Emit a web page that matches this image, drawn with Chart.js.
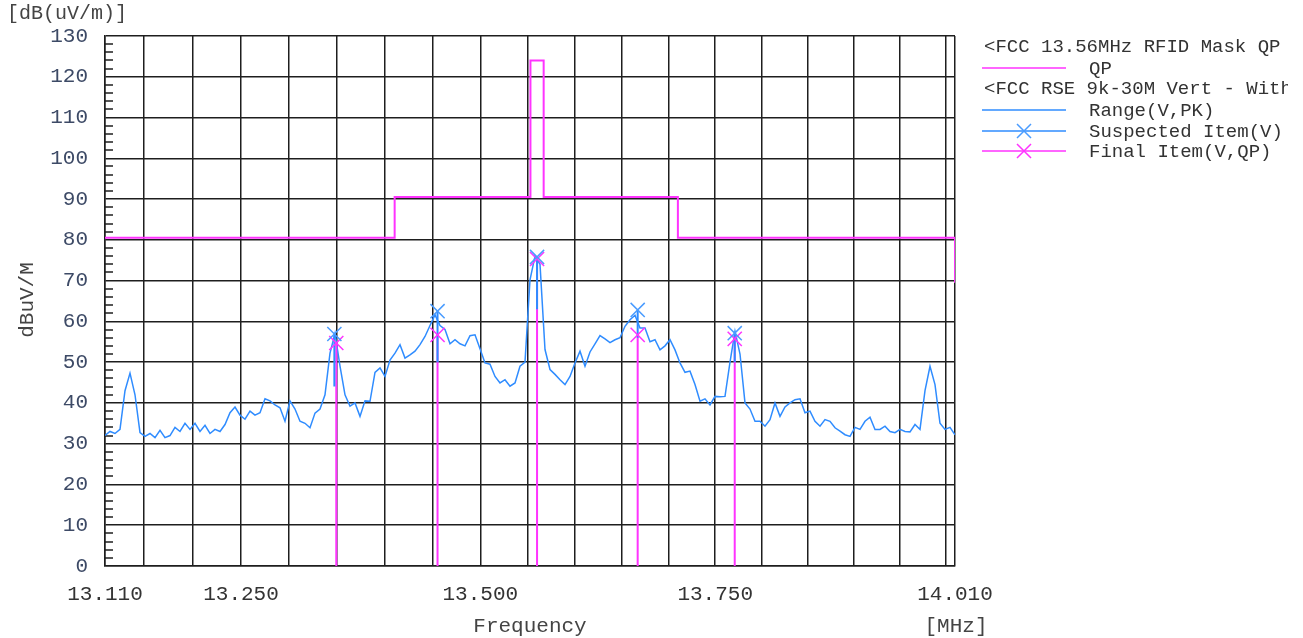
<!DOCTYPE html>
<html><head><meta charset="utf-8">
<script src="https://cdn.jsdelivr.net/npm/chart.js@4.4.1/dist/chart.umd.min.js"></script>
<style>html,body{margin:0;padding:0;background:#fff;overflow:hidden}</style>
</head><body>
<canvas id="c" width="1303" height="638"></canvas>
<script>
// ---------- data ----------
const xGridFreqs = [13.11,13.15,13.20,13.25,13.30,13.35,13.40,13.45,13.50,13.55,13.60,13.65,13.70,13.75,13.80,13.85,13.90,13.95,14.00,14.01];
const xLabelFreqs = [13.11,13.25,13.50,13.75,14.01];
const yTickStep = 10;

const limitFreq  = [13.11,13.41,13.41,13.553,13.553,13.567,13.567,13.71,13.71,14.01,14.01];
const limitLevel = [80.5, 80.5, 90.5, 90.5,  124,   124,   90.5,  90.5, 80.5, 80.5, 69.5];

const traceStart = 13.11, traceStop = 14.01;
const traceLevel = [
 32.0,33.0,32.5,33.5,43.0,47.3,42.0,32.7,31.8,32.5,
 31.5,33.3,31.5,32.0,34.0,33.0,35.0,33.5,35.0,33.0,
 34.5,32.5,33.5,33.0,34.7,37.6,39.0,37.0,36.0,38.0,
 37.0,37.6,41.0,40.5,39.5,38.8,35.5,40.5,38.5,35.5,
 35.0,33.9,37.5,38.5,42.0,52.2,57.1,49.0,42.0,39.2,
 40.0,36.7,40.5,40.4,47.5,48.6,46.5,50.5,52.2,54.3,
 51.0,51.8,52.7,54.3,56.3,59.0,61.6,59.0,58.0,54.5,
 55.5,54.5,54.0,56.5,56.7,53.3,49.8,49.5,46.5,44.9,
 45.7,44.1,44.9,49.0,50.0,70.2,76.0,74.0,53.1,48.2,
 47.0,45.7,44.5,46.5,49.8,52.7,49.0,52.5,54.5,56.5,
 55.7,54.8,55.5,56.0,58.8,60.4,61.5,58.4,58.4,55.0,
 55.5,53.0,54.0,55.5,53.0,49.8,47.5,47.8,44.5,40.4,
 41.0,39.5,41.6,41.5,41.6,50.0,57.6,52.0,40.0,38.5,
 35.5,35.5,34.3,35.9,40.0,36.7,39.0,40.0,40.8,41.0,
 37.6,38.0,35.5,34.3,35.9,35.5,33.9,33.1,32.2,31.8,
 34.0,33.5,35.5,36.5,33.5,33.5,34.3,33.0,32.7,33.5,
 33.0,32.9,34.7,33.5,43.0,49.0,44.5,35.0,33.5,34.0,
 32.2
];

const suspFreq  = [13.347,13.455,13.560,13.667,13.771];
const suspLevel = [56.9, 62.5, 75.8, 62.8, 57.1];
const suspStemLow = [44.0, 50.0, 63.0, 56.0, 50.0];
const finalFreq  = [13.349,13.455,13.560,13.667,13.771];
const finalLevel = [54.7, 56.7, 75.3, 56.7, 55.7];

const legendTitles = ['<FCC 13.56MHz RFID Mask QP', '<FCC RSE 9k-30M Vert - With'];
const legendItems  = ['QP','Range(V,PK)','Suspected Item(V)','Final Item(V,QP)'];

// ---------- build ----------
const MAG = '#ff33ff', BLUE = '#2f8cff', BLUEX = '#4a9cff', GRID = '#1e1e1e';
const FONT = 'Liberation Mono';

const nTrace = traceLevel.length;
const traceData = traceLevel.map((v,i)=>({x: traceStart*Math.pow(traceStop/traceStart, i/(nTrace-1)), y: v}));
const limitData = limitFreq.map((f,i)=>({x:f, y:limitLevel[i]}));
function stems(fs, lo, hi){ const d=[]; fs.forEach((f,i)=>{d.push({x:f,y:lo[i]});d.push({x:f,y:hi[i]});d.push({x:f,y:null});}); return d; }
const suspPts = suspFreq.map((f,i)=>({x:f,y:suspLevel[i]}));
const finalPts = finalFreq.map((f,i)=>({x:f,y:finalLevel[i]}));
const zeros = finalFreq.map(()=>0);

const deco = {
  id:'deco',
  beforeDatasetsDraw(chart){
    const ctx=chart.ctx, y=chart.scales.y, a=chart.chartArea;
    ctx.save();
    ctx.strokeStyle=GRID; ctx.lineWidth=1.5;
    for(let v=2; v<130; v+=2){
      if(v%10===0) continue;
      const py=Math.round(y.getPixelForValue(v));
      ctx.beginPath(); ctx.moveTo(a.left,py); ctx.lineTo(a.left+8,py); ctx.stroke();
    }
    ctx.restore();
  },
  afterDraw(chart){
    const ctx=chart.ctx;
    ctx.save();
    ctx.fillStyle='#444';
    ctx.font='20px "'+FONT+'"';
    ctx.textBaseline='middle';
    ctx.textAlign='left';
    ctx.fillText('[dB(uV/m)]', 7, 14);
    ctx.font='21px "'+FONT+'"';
    ctx.textAlign='center';
    ctx.fillText('Frequency', 530, 626);
    ctx.fillText('[MHz]', 956, 626);
    ctx.save();
    ctx.translate(27, 300); ctx.rotate(-Math.PI/2);
    ctx.fillText('dBuV/M', 0, 0);
    ctx.restore();
    // legend
    ctx.beginPath(); ctx.rect(960,0,328,638); ctx.clip();
    ctx.textAlign='left';
    ctx.fillStyle='#333';
    ctx.font='19px "'+FONT+'"';
    ctx.fillText(legendTitles[0], 984, 47);
    ctx.fillText(legendTitles[1], 984, 89);
    const rows=[[68,MAG,false],[110,BLUE,false],[131,BLUE,BLUEX],[151,MAG,MAG]];
    rows.forEach((r,i)=>{
      ctx.strokeStyle=r[1]; ctx.lineWidth=1.5;
      ctx.beginPath(); ctx.moveTo(982,r[0]); ctx.lineTo(1066,r[0]); ctx.stroke();
      if(r[2]){
        ctx.strokeStyle=r[2]; ctx.lineWidth=1.5;
        const cx=1024, cy=r[0], s=7;
        ctx.beginPath(); ctx.moveTo(cx-s,cy-s); ctx.lineTo(cx+s,cy+s); ctx.moveTo(cx+s,cy-s); ctx.lineTo(cx-s,cy+s); ctx.stroke();
      }
      ctx.fillStyle='#333';
      ctx.fillText(legendItems[i], 1089, r[0]+1);
    });
    ctx.restore();
  }
};

new Chart(document.getElementById('c'), {
  type:'line',
  data:{ datasets:[
    {label:'Suspected marks', type:'scatter', data:suspPts, showLine:false, pointStyle:'crossRot', pointRadius:10, pointBorderColor:BLUEX, pointBackgroundColor:BLUEX, pointBorderWidth:1.5, order:0},
    {label:'Final marks', type:'scatter', data:finalPts, showLine:false, pointStyle:'crossRot', pointRadius:10, pointBorderColor:MAG, pointBackgroundColor:MAG, pointBorderWidth:1.5, order:1},
    {label:'Suspected stems', data:stems(suspFreq, suspStemLow, suspLevel), borderColor:BLUE, borderWidth:2, pointRadius:0, spanGaps:false, order:2},
    {label:'Final stems', data:stems(finalFreq, zeros, finalLevel), borderColor:MAG, borderWidth:2, pointRadius:0, spanGaps:false, order:3},
    {label:'Limit', data:limitData, borderColor:MAG, borderWidth:2, pointRadius:0, tension:0, order:4},
    {label:'Range', data:traceData, borderColor:BLUE, borderWidth:1.5, pointRadius:0, tension:0, order:5}
  ]},
  options:{
    responsive:false, animation:false, devicePixelRatio:1,
    layout:{padding:{top:36,right:348,left:0,bottom:0}},
    plugins:{legend:{display:false}, tooltip:{enabled:false}},
    scales:{
      x:{type:'logarithmic', min:13.11, max:14.01, bounds:'data', offset:false,
        afterBuildTicks:s=>{ s.ticks = xGridFreqs.map(v=>({value:v})); },
        afterFit:s=>{ s.height = 72; },
        ticks:{autoSkip:false, maxRotation:0, minRotation:0, padding:16, color:'#333',
          font:{family:FONT, size:21},
          callback:(v)=> xLabelFreqs.some(f=>Math.abs(f-v)<1e-6) ? Number(v).toFixed(3) : ''},
        grid:{color:GRID, lineWidth:1.5, drawTicks:false, offset:false},
        border:{color:GRID, width:1.5}
      },
      y:{type:'linear', min:0, max:130,
        afterFit:s=>{ s.width = 105; },
        ticks:{stepSize:yTickStep, padding:17, color:'#3d4a66', font:{family:FONT, size:21}},
        grid:{color:GRID, lineWidth:1.5, drawTicks:false},
        border:{color:GRID, width:1.5}
      }
    }
  },
  plugins:[deco]
});
</script>
</body></html>
